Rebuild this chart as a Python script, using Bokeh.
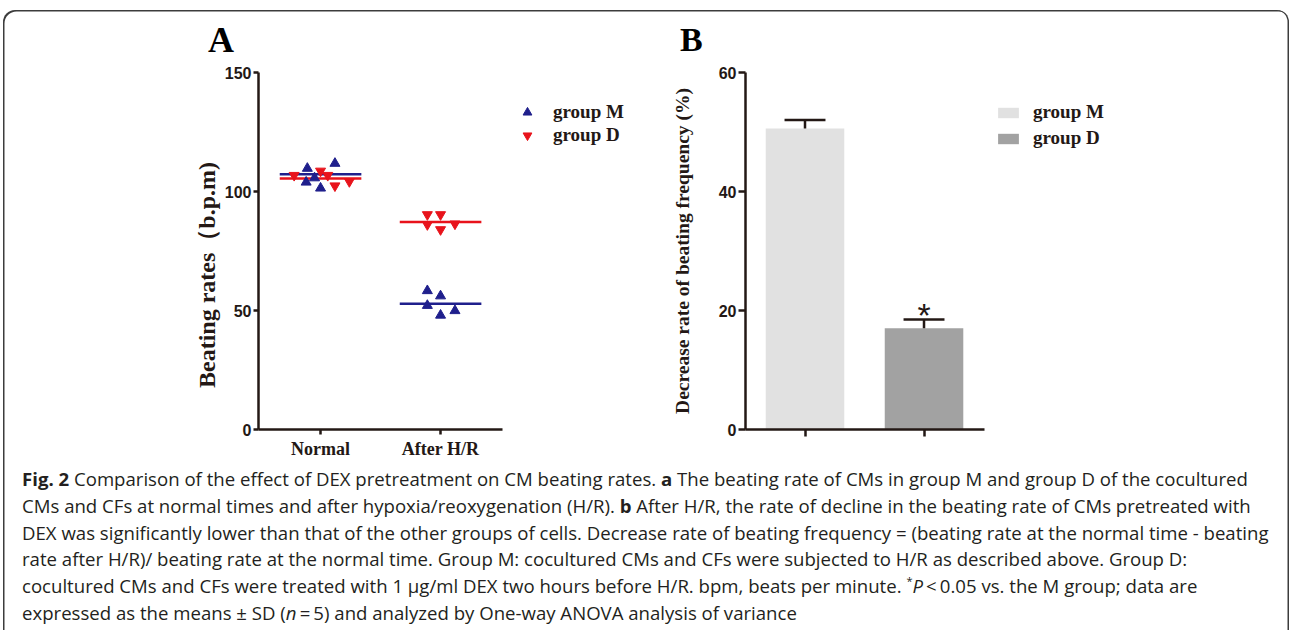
import numpy as np
from bokeh.plotting import figure
from bokeh.models import Range1d, FixedTicker, Label, Legend, LegendItem, Div, ColumnDataSource
from bokeh.layouts import column, row
from bokeh.embed import file_html
from bokeh.resources import INLINE
from bokeh.core.properties import value

# ---------------- data ----------------
group_labels = ["Normal", "After H/R"]
group_pos = [1, 2]
series_names = ["group M", "group D"]

# panel A: individual beating rates (b.p.m) and horizontal jitter of each point
m_normal = [109.7, 111.8, 103.9, 105.7, 101.4]
m_normal_dx = [-0.11, 0.12, -0.12, -0.05, 0.0]
d_normal = [106.8, 108.6, 106.8, 102.4, 104.2]
d_normal_dx = [-0.22, 0.0, 0.06, 0.12, 0.24]
m_after = [58.3, 56.1, 52.1, 48.0, 49.9]
m_after_dx = [-0.11, 0.0, -0.11, 0.0, 0.12]
d_after = [90.3, 90.3, 86.1, 84.0, 86.4]
d_after_dx = [-0.11, 0.0, -0.11, 0.0, 0.12]
mean_m = [107.2, 52.8]
mean_d = [105.5, 87.2]
a_yticks = [0, 50, 100, 150]

# panel B: decrease rate of beating frequency (%)
bar_means = [50.6, 17.0]
bar_sds = [1.4, 1.5]
b_yticks = [0, 20, 40, 60]

# ---------------- style ----------------
AX = "#231815"
BLUE = "#1f1f8c"
RED = "#e8131b"
SERIF = "Liberation Serif"
SANS = "Liberation Sans"
BAR_COLORS = ["#e1e1e1", "#a2a2a2"]


def style_axes(p, tick_out):
    for ax in (p.xaxis[0], p.yaxis[0]):
        ax.axis_line_color = AX
        ax.axis_line_width = 2.5
        ax.major_tick_line_color = AX
        ax.major_tick_line_width = 2.5
        ax.major_tick_out = tick_out
        ax.major_tick_in = 0
        ax.minor_tick_line_color = None
    y = p.yaxis[0]
    y.major_label_text_font = SANS
    y.major_label_text_font_style = "bold"
    y.major_label_text_font_size = "16px"
    y.major_label_text_color = AX
    y.major_label_standoff = 2
    y.axis_label_text_font = SERIF
    y.axis_label_text_font_style = "bold"
    y.axis_label_text_color = AX
    x = p.xaxis[0]
    x.major_label_text_font = SERIF
    x.major_label_text_font_style = "bold"
    x.major_label_text_font_size = "18px"
    x.major_label_text_color = AX
    x.major_label_standoff = 4
    p.grid.visible = False


def legend(items, vx, vy, gw, gh, standoff, spacing):
    return Legend(items=items, location=(vx, vy), glyph_width=gw, glyph_height=gh,
                  label_standoff=standoff, spacing=spacing, padding=0, margin=0,
                  border_line_color=None, background_fill_color=None,
                  label_text_font=SERIF, label_text_font_style="bold",
                  label_text_font_size="19px", label_text_color=AX)


# ---------------- panel A ----------------
pa = figure(width=649, height=404, min_border_left=255, min_border_right=12,
            min_border_top=10, min_border_bottom=34,
            x_range=Range1d(0.483, 3.666), y_range=Range1d(0, 150),
            output_backend="svg", toolbar_location=None,
            background_fill_color=None, border_fill_color=None, outline_line_color=None)
style_axes(pa, 5)
pa.xaxis[0].ticker = FixedTicker(ticks=group_pos)
pa.xaxis[0].bounds = (0.483, 2.517)
pa.xaxis[0].major_label_overrides = {p: l for p, l in zip(group_pos, group_labels)}
pa.yaxis[0].ticker = FixedTicker(ticks=a_yticks)
pa.yaxis[0].axis_label = "Beating rates（b.p.m)" + "\u00a0" * 8
pa.yaxis[0].axis_label_text_font_size = "24px"
pa.yaxis[0].axis_label_standoff = 2

half = 0.34
pa.segment(x0=[g - half for g in group_pos], x1=[g + half for g in group_pos], y0=mean_m, y1=mean_m,
           line_color=BLUE, line_width=2.5)
pa.segment(x0=[g - half for g in group_pos], x1=[g + half for g in group_pos], y0=mean_d, y1=mean_d,
           line_color=RED, line_width=2.5)

xm = [group_pos[0] + d for d in m_normal_dx] + [group_pos[1] + d for d in m_after_dx]
ym = m_normal + m_after
xd = [group_pos[0] + d for d in d_normal_dx] + [group_pos[1] + d for d in d_after_dx]
yd = d_normal + d_after
ra_m = pa.scatter(x=xm, y=ym, marker="triangle", size=10, fill_color=BLUE, line_color=BLUE)
ra_d = pa.scatter(x=xd, y=yd, marker="inverted_triangle", size=10, fill_color=RED, line_color=RED)

legA = legend([LegendItem(label=value(series_names[0]), renderers=[ra_m]),
               LegendItem(label=value(series_names[1]), renderers=[ra_d])],
              258, 283, 22, 22, 15, 1)
pa.add_layout(legA)

# ---------------- panel B ----------------
pb = figure(width=637, height=404, min_border_left=93, min_border_right=164,
            min_border_top=12, min_border_bottom=35,
            x_range=Range1d(0.5, 3.693), y_range=Range1d(0, 60),
            output_backend="svg", toolbar_location=None,
            background_fill_color=None, border_fill_color=None, outline_line_color=None)
style_axes(pb, 7)
pb.xaxis[0].ticker = FixedTicker(ticks=group_pos)
pb.xaxis[0].bounds = (0.5, 2.51)
pb.xaxis[0].major_label_overrides = {p: "" for p in group_pos}
pb.yaxis[0].ticker = FixedTicker(ticks=b_yticks)
pb.yaxis[0].axis_label = "Decrease rate of beating frequency (%)"
pb.yaxis[0].axis_label_text_font_size = "19.5px"
pb.yaxis[0].axis_label_standoff = 23

src = ColumnDataSource(dict(x=group_pos, top=bar_means, color=BAR_COLORS, name=series_names))
rb = pb.vbar(x="x", top="top", width=0.66, fill_color="color", line_color=None, source=src)

tops = [m + s for m, s in zip(bar_means, bar_sds)]
cap = 0.172
pb.segment(x0=group_pos, x1=group_pos, y0=bar_means, y1=tops, line_color=AX, line_width=2.5)
pb.segment(x0=[g - cap for g in group_pos], x1=[g + cap for g in group_pos], y0=tops, y1=tops,
           line_color=AX, line_width=2.5)

pb.add_layout(Label(x=group_pos[1], y=tops[1], y_offset=4, text="*", text_font=SANS,
                    text_font_size="34px", text_color=AX, text_align="center",
                    text_baseline="alphabetic"))

legB = legend([LegendItem(label=value(series_names[i]), renderers=[rb], index=i) for i in range(2)],
              250, 280, 26, 13, 12, 4)
pb.add_layout(legB)

# ---------------- panel letters ----------------
letters = Div(width=1286, height=50, margin=0, text=(
    "<div style=\"position:relative; width:1286px; height:50px; font-family:'Liberation Serif'; "
    "font-weight:bold; line-height:1; color:#000;\">"
    "<span style='position:absolute; left:205px; top:12px; font-size:36px;'>A</span>"
    "<span style='position:absolute; left:677px; top:13px; font-size:34px;'>B</span>"
    "</div>"))

# ---------------- caption ----------------
cap_lines = [
    "<b>Fig. 2</b> Comparison of the effect of DEX pretreatment on CM beating rates. <b>a</b> The beating rate of CMs in group M and group D of the cocultured",
    "CMs and CFs at normal times and after hypoxia/reoxygenation (H/R). <b>b</b> After H/R, the rate of decline in the beating rate of CMs pretreated with",
    "DEX was significantly lower than that of the other groups of cells. Decrease rate of beating frequency = (beating rate at the normal time - beating",
    "rate after H/R)/ beating rate at the normal time. Group M: cocultured CMs and CFs were subjected to H/R as described above. Group D:",
    "cocultured CMs and CFs were treated with 1 &mu;g/ml DEX two hours before H/R. bpm, beats per minute. "
    "<span style='font-size:11px; line-height:0; position:relative; top:-8px'>*</span><i>P</i>&thinsp;&lt;&thinsp;0.05 vs. the M group; data are",
    "expressed as the means &plusmn; SD (<i>n</i>&thinsp;=&thinsp;5) and analyzed by One-way ANOVA analysis of variance",
]
html = ("<div style=\"padding-top:2px; padding-left:19px; font-family:'Open Sans'; "
        "font-size:18.6px; line-height:26.8px; color:#231f20; white-space:nowrap;\">"
        + "<br>".join(cap_lines) + "</div>")
caption = Div(text=html, width=1286, height=166, margin=0)

layout = column(letters, row(pa, pb), caption, margin=(10, 0, 0, 3),
                styles={"box-shadow": "inset 1.5px 1.5px 0 0 #3c3c3c, inset -1.5px 0 0 0 #3c3c3c",
                        "border-radius": "12px 12px 0 0"})

open("out.html", "w").write(file_html(layout, INLINE))
